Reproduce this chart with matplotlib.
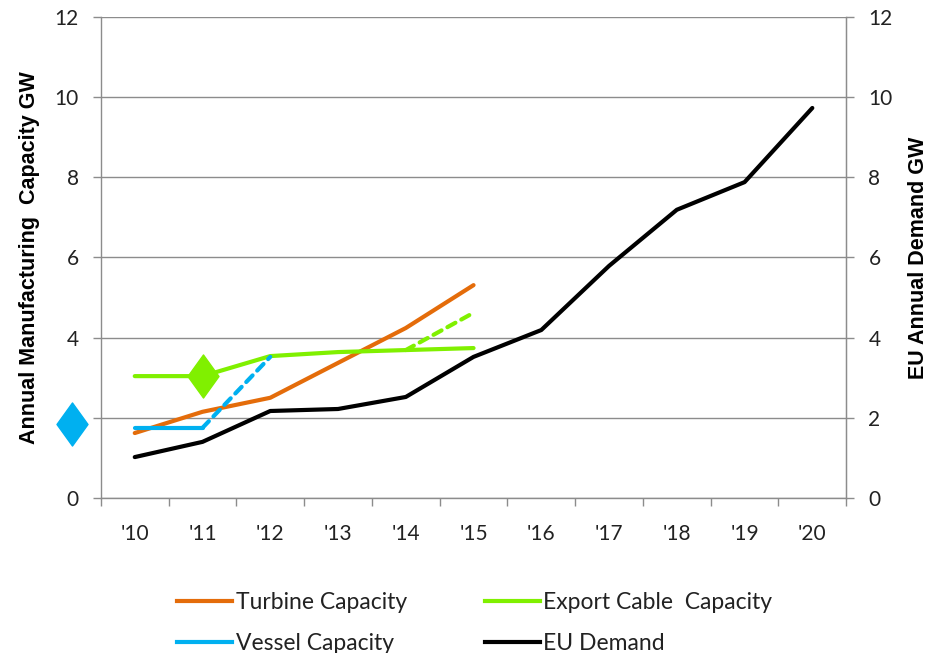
import matplotlib.pyplot as plt
from matplotlib.lines import Line2D
from matplotlib.path import Path
import numpy as np

years = ["'10", "'11", "'12", "'13", "'14", "'15", "'16", "'17", "'18", "'19", "'20"]
eu_demand = [1.02, 1.40, 2.17, 2.22, 2.52, 3.52, 4.19, 5.79, 7.19, 7.88, 9.73]
turbine = [1.62, 2.15, 2.50, 3.37, 4.24, 5.31]
export_cable = [3.04, 3.04, 3.54, 3.64, 3.69, 3.74]
export_cable_upside = [3.69, 4.62]      # '14 -> '15, dashed
vessel = [1.75, 1.75]                    # '10 -> '11
vessel_upside = [1.75, 3.52]             # '11 -> '12, dashed
vessel_marker = (-0.92, 1.85)
cable_marker = (1.0, 3.04)

ORANGE = '#E46C0A'
GREEN = '#80F000'
BLUE = '#00B0F0'
GRID = '#8C8C8C'
TXT = '#222222'
FONT = 'Lato'

diamond = Path([(0, 1), (0.72, 0), (0, -1), (-0.72, 0), (0, 1)],
               [Path.MOVETO, Path.LINETO, Path.LINETO, Path.LINETO, Path.CLOSEPOLY])

fig = plt.figure(figsize=(9.34, 6.53), dpi=100)
ax = fig.add_axes([0.108, 0.2374, 0.798, 0.7366])

x = np.arange(len(years))
lw = 3.0
ax.plot(x, eu_demand, color='black', lw=lw, solid_capstyle='round', zorder=3)
ax.plot(x[:len(turbine)], turbine, color=ORANGE, lw=lw, solid_capstyle='round', zorder=3)
ax.plot(x[:len(export_cable)], export_cable, color=GREEN, lw=lw, solid_capstyle='round', zorder=3)
ax.plot([4, 5], export_cable_upside, color=GREEN, lw=lw, ls=(0, (2.2, 1.6)),
        dash_capstyle='round', zorder=3)
ax.plot([0, 1], vessel, color=BLUE, lw=lw, solid_capstyle='round', zorder=4)
ax.plot([1, 2], vessel_upside, color=BLUE, lw=lw, ls=(0, (2.2, 1.6)),
        dash_capstyle='round', zorder=4)

ax.plot(*cable_marker, marker=diamond, ms=31, color=GREEN, zorder=5)
ax.plot(*vessel_marker, marker=diamond, ms=31, color=BLUE, zorder=5, clip_on=False)

ax.set_xlim(-0.5, 10.5)
ax.set_ylim(0, 12)
ax.set_yticks(range(0, 13, 2))
ax.yaxis.grid(True, color=GRID, lw=1.0)
ax.set_axisbelow(True)

ax.set_xticks(x)
ax.set_xticklabels(years)
ax.set_xticks(np.arange(-0.5, 11, 1), minor=True)
ax.tick_params(axis='x', which='major', length=0, pad=19, labelsize=15, labelcolor=TXT)
ax.tick_params(axis='x', which='minor', length=6, color=GRID, width=1)
ax.tick_params(axis='y', length=6, color=GRID, width=1, labelsize=15, pad=10,
               labelcolor=TXT)
for lab in ax.get_xticklabels() + ax.get_yticklabels():
    lab.set_family(FONT)

for side in ('left', 'right', 'bottom'):
    ax.spines[side].set_color(GRID)
    ax.spines[side].set_linewidth(1.0)
ax.spines['top'].set_visible(False)

ax.set_ylabel('Annual Manufacturing  Capacity GW', fontsize=15.5, fontweight='bold',
              family='Liberation Sans', va='center', ha='center')
ax.yaxis.set_label_coords(-0.0953, 0.5)

ax2 = ax.twinx()
ax2.set_ylim(0, 12)
ax2.set_yticks(range(0, 13, 2))
ax2.tick_params(axis='y', length=6, color=GRID, width=1, labelsize=15, pad=10,
                labelcolor=TXT)
for lab in ax2.get_yticklabels():
    lab.set_family(FONT)
for side in ('left', 'right', 'bottom', 'top'):
    ax2.spines[side].set_visible(False)
ax2.spines['right'].set_visible(True)
ax2.spines['right'].set_color(GRID)
ax2.set_ylabel('EU Annual Demand GW', fontsize=15.5, fontweight='bold',
               family='Liberation Sans', rotation=90, va='center', ha='center')
ax2.yaxis.set_label_coords(1.0966, 0.5)

handles = [
    Line2D([], [], color=ORANGE, lw=3),
    Line2D([], [], color=BLUE, lw=3),
    Line2D([], [], color=GREEN, lw=3),
    Line2D([], [], color='black', lw=3),
]
labels = ['Turbine Capacity', 'Vessel Capacity', 'Export Cable  Capacity', 'EU Demand']
leg = fig.legend(handles, labels, ncol=2, frameon=False, loc='upper left',
                 bbox_to_anchor=(0.19, 0.094), prop={'family': FONT, 'size': 16.5},
                 handlelength=2.4, handletextpad=0.15, columnspacing=3.4,
                 labelspacing=0.9, borderpad=0, borderaxespad=0)
for t in leg.get_texts():
    t.set_color(TXT)

fig.savefig('out.png', dpi=100)
